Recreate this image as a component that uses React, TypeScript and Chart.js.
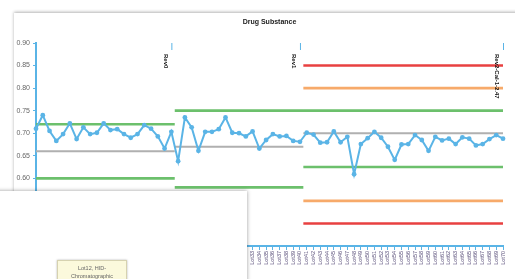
import React, { useEffect, useRef } from "react";
import { Chart, registerables } from "chart.js";
Chart.register(...registerables);

const lotLabels = [
  "Lot01", "Lot02", "Lot03", "Lot04", "Lot05", "Lot06", "Lot07", "Lot08", "Lot09", "Lot10",
  "Lot11", "Lot12", "Lot13", "Lot14", "Lot15", "Lot16", "Lot17", "Lot18", "Lot19", "Lot20",
  "Lot21", "Lot22", "Lot23", "Lot24", "Lot25", "Lot26", "Lot27", "Lot28", "Lot29", "Lot30",
  "Lot31", "Lot32", "Lot33", "Lot34", "Lot35", "Lot36", "Lot37", "Lot38", "Lot39", "Lot40",
  "Lot41", "Lot42", "Lot43", "Lot44", "Lot45", "Lot46", "Lot47", "Lot48", "Lot49", "Lot50",
  "Lot51", "Lot52", "Lot53", "Lot54", "Lot55", "Lot56", "Lot57", "Lot58", "Lot59", "Lot60",
  "Lot61", "Lot62", "Lot63", "Lot64", "Lot65", "Lot66", "Lot67", "Lot68", "Lot69", "Lot70",
];

const assayValues = [
  0.710, 0.740, 0.705, 0.683, 0.698, 0.722, 0.687, 0.713, 0.698, 0.701, 0.722,
  0.707, 0.709, 0.698, 0.690, 0.698, 0.718, 0.710, 0.693, 0.666, 0.703,
  0.638, 0.735, 0.713, 0.661, 0.703, 0.703, 0.709, 0.735, 0.701, 0.700,
  0.693, 0.704, 0.666, 0.685, 0.698, 0.693, 0.694, 0.683, 0.681,
  0.701, 0.697, 0.679, 0.680, 0.704, 0.680, 0.692, 0.609, 0.676, 0.689,
  0.703, 0.690, 0.670, 0.641, 0.675, 0.676, 0.696, 0.685, 0.661, 0.692,
  0.684, 0.688, 0.676, 0.691, 0.688, 0.673, 0.676, 0.687, 0.696, 0.688,
];

// segment boundaries (in lot index units)
const segmentEdges = [0, 20.5, 39.5, 69];
const meanLimits = [0.66, 0.67, 0.70];
const upperControl = [0.72, 0.75, 0.75];
const lowerControl = [0.60, 0.58, 0.625];
const upperWarning = [null, null, 0.80];
const lowerWarning = [null, null, 0.55];
const upperAction = [null, null, 0.85];
const lowerAction = [null, null, 0.50];

const revisionLabels = ["Rev0", "Rev1", "Rev2-Cal-1-2.47"];
const revisionIndex = [20, 39, 69];

const yTicks = [0.45, 0.5, 0.55, 0.6, 0.65, 0.7, 0.75, 0.8, 0.85, 0.9];

const BLUE = "#5ab4e6";

function stepLine(values: (number | null)[]) {
  const pts: { x: number; y: number | null }[] = [];
  values.forEach((v, i) => {
    if (v === null) return;
    pts.push({ x: segmentEdges[i], y: v });
    pts.push({ x: segmentEdges[i + 1], y: v });
    pts.push({ x: segmentEdges[i + 1], y: null });
  });
  return pts;
}

const overlayPlugin = {
  id: "overlayPlugin",
  afterDatasetsDraw(chart: any) {
    const { ctx, chartArea, scales } = chart;
    const xs = scales.x;
    ctx.save();
    ctx.fillStyle = "#222";
    ctx.font = "bold 7px 'Liberation Sans', Arial, sans-serif";
    ctx.textAlign = "center";
    ctx.textBaseline = "middle";
    ctx.fillText("Drug Substance", (chartArea.left + chartArea.right) / 2, 22);
    revisionIndex.forEach((idx, k) => {
      const x = xs.getPixelForValue(idx);
      ctx.strokeStyle = BLUE;
      ctx.lineWidth = 1;
      ctx.beginPath();
      ctx.moveTo(x + 0.5, chartArea.top);
      ctx.lineTo(x + 0.5, chartArea.top + 7);
      ctx.stroke();
      ctx.save();
      ctx.translate(x - 6, chartArea.top + 11);
      ctx.rotate(Math.PI / 2);
      ctx.fillStyle = "#111";
      ctx.font = "bold 6px 'Liberation Sans', Arial, sans-serif";
      ctx.textAlign = "left";
      ctx.textBaseline = "middle";
      ctx.fillText(revisionLabels[k], 0, 0);
      ctx.restore();
    });
    ctx.restore();
  },
};

export default function App() {
  const ref = useRef<HTMLCanvasElement | null>(null);
  useEffect(() => {
    if (!ref.current) return;
    const limitDs = (values: (number | null)[], color: string, width: number) => ({
      data: stepLine(values),
      borderColor: color,
      borderWidth: width,
      pointRadius: 0,
      spanGaps: false,
      fill: false,
    });
    const chart = new Chart(ref.current, {
      type: "line",
      data: {
        datasets: [
          {
            data: assayValues.map((v, i) => ({ x: i, y: v })),
            borderColor: BLUE,
            backgroundColor: BLUE,
            borderWidth: 2,
            pointRadius: 2.4,
            pointBorderWidth: 0,
            pointBackgroundColor: BLUE,
            clip: false,
            tension: 0,
          } as any,
          limitDs(meanLimits, "#b0b0b0", 2),
          limitDs(upperControl, "#6cc06c", 2.6),
          limitDs(lowerControl, "#6cc06c", 2.6),
          limitDs(upperWarning, "#f7aa6a", 2.6),
          limitDs(lowerWarning, "#f7aa6a", 2.6),
          limitDs(upperAction, "#e84040", 2.6),
          limitDs(lowerAction, "#e84040", 2.6),
        ],
      },
      options: {
        animation: false,
        responsive: false,
        maintainAspectRatio: false,
        layout: { padding: { left: 0, top: 43, right: 12, bottom: 0 } },
        plugins: { legend: { display: false }, tooltip: { enabled: false }, title: { display: false } },
        scales: {
          x: {
            type: "linear",
            min: 0,
            max: 69,
            afterFit: (s: any) => { s.height = 33; },
            afterBuildTicks: (s: any) => { s.ticks = lotLabels.map((_, i) => ({ value: i })); },
            ticks: {
              autoSkip: false,
              minRotation: 90,
              maxRotation: 90,
              padding: 1,
              color: "#5a4f7a",
              font: { size: 5.5, family: "'Liberation Sans', Arial, sans-serif" },
              callback: (v: any) => lotLabels[v as number] ?? "",
            },
            grid: { display: true, drawOnChartArea: false, drawTicks: true, tickLength: 4, color: BLUE },
            border: { display: true, color: BLUE, width: 2 },
          },
          y: {
            min: 0.45,
            max: 0.9,
            afterFit: (s: any) => { s.width = 36; },
            afterBuildTicks: (s: any) => { s.ticks = yTicks.map((v) => ({ value: v })); },
            ticks: {
              color: "#666",
              padding: 3,
              font: { size: 7, family: "'Liberation Sans', Arial, sans-serif" },
              callback: (v: any) => Number(v).toFixed(2),
            },
            grid: { display: true, drawOnChartArea: false, drawTicks: true, tickLength: 3, color: BLUE },
            border: { display: true, color: BLUE, width: 2 },
          },
        },
      },
      plugins: [overlayPlugin],
    });
    return () => chart.destroy();
  }, []);

  return (
    <div style={{ position: "fixed", left: 0, top: 0, width: 515, height: 279, overflow: "hidden", background: "#fff" }}>
      <div
        style={{
          position: "absolute", left: 14, top: 13, width: 530, height: 300,
          background: "#fff", boxShadow: "0 -1px 3px rgba(0,0,0,0.3)",
        }}
      />
      <canvas ref={ref} width={515} height={279} style={{ position: "absolute", left: 0, top: 0 }} />
      <div
        style={{
          position: "absolute", left: -10, top: 191, width: 257, height: 120,
          background: "#fff", boxShadow: "0 0 4px rgba(0,0,0,0.4)",
        }}
      >
        <div
          style={{
            position: "absolute", left: 67, top: 69, width: 70, height: 30,
            background: "#fbf9dc", border: "1px solid #d6d2b0", boxShadow: "0 0 2px rgba(0,0,0,0.3)",
            fontFamily: "'Liberation Sans', Arial, sans-serif", fontSize: 5.5, color: "#666",
            textAlign: "center", lineHeight: "8px", paddingTop: 3, boxSizing: "border-box",
          }}
        >
          <div>Lot12, HID-</div>
          <div>Chromatographic</div>
        </div>
      </div>
    </div>
  );
}
